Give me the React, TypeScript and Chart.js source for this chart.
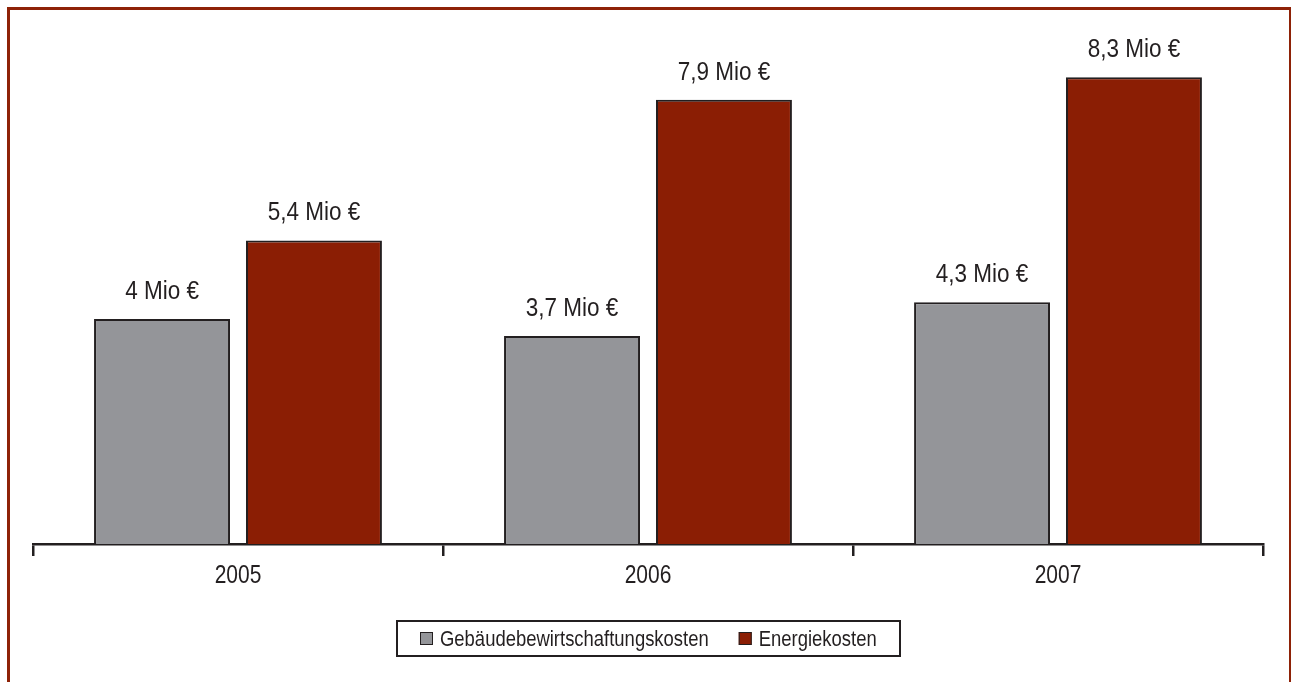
import React, { useEffect, useRef } from "react";
import { Chart, registerables } from "chart.js";

Chart.register(...registerables);

const categories = ["2005", "2006", "2007"];
const gebaeudeValues = [4, 3.7, 4.3];
const energieValues = [5.4, 7.9, 8.3];
const seriesLabels = ["Gebäudebewirtschaftungskosten", "Energiekosten"];
const unitSuffix = " Mio €";

const FONT = '"Liberation Sans", Arial, sans-serif';
const GRAY = "#949599";
const RED = "#8B1E04";
const DARK = "#231F20";
const FRAME = "#8E2207";
const W = 1291;
const H = 682;

function fmt(v: number): string {
  return String(v).replace(".", ",") + unitSuffix;
}

function drawCondensed(
  ctx: CanvasRenderingContext2D,
  text: string,
  x: number,
  y: number,
  size: number,
  k: number,
  align: CanvasTextAlign
) {
  ctx.save();
  ctx.font = size + "px " + FONT;
  ctx.fillStyle = DARK;
  ctx.textBaseline = "middle";
  ctx.textAlign = align;
  ctx.translate(x, y);
  ctx.scale(k, 1);
  ctx.fillText(text, 0, 0);
  ctx.restore();
}

const framePlugin = {
  id: "framePlugin",
  beforeDraw(chart: any) {
    const ctx = chart.ctx;
    ctx.save();
    ctx.fillStyle = "#ffffff";
    ctx.fillRect(0, 0, W, H);
    ctx.fillStyle = FRAME;
    ctx.fillRect(7, 7, W - 7, 3);
    ctx.fillRect(7, 7, 3, H - 7);
    ctx.fillRect(W - 2, 7, 2, H - 7);
    ctx.restore();
  },
};

const tickLabelPlugin = {
  id: "tickLabelPlugin",
  afterDraw(chart: any) {
    const ctx = chart.ctx;
    const xs = chart.scales.x;
    chart.data.labels.forEach((lab: string, i: number) => {
      drawCondensed(ctx, lab, xs.getPixelForTick(i), 576, 25, 0.84, "center");
    });
  },
};

const valueLabelPlugin = {
  id: "valueLabelPlugin",
  afterDatasetsDraw(chart: any) {
    const ctx = chart.ctx;
    chart.data.datasets.forEach((ds: any, i: number) => {
      const meta = chart.getDatasetMeta(i);
      meta.data.forEach((el: any, j: number) => {
        drawCondensed(ctx, fmt(ds.data[j]), el.x, el.y - 27, 25, 0.9, "center");
      });
    });
  },
};

const boxLegendPlugin = {
  id: "boxLegendPlugin",
  afterDraw(chart: any) {
    const ctx = chart.ctx;
    const size = 22.5;
    const k = 0.82;
    ctx.save();
    ctx.font = size + "px " + FONT;
    const ds = chart.data.datasets;
    const sq = 13;
    const gap = 7;
    const itemGap = 30;
    const padX = 24;
    const widths = ds.map((d: any) => ctx.measureText(d.label).width * k);
    let total = padX * 2;
    widths.forEach((w: number, i: number) => {
      total += sq + gap + w + (i > 0 ? itemGap : 0);
    });
    const ca = chart.chartArea;
    const cx = (ca.left + ca.right) / 2;
    const left = Math.round(cx - total / 2);
    const top = 620;
    const h = 37;
    ctx.strokeStyle = DARK;
    ctx.lineWidth = 2;
    ctx.strokeRect(left + 1, top + 1, Math.round(total) - 2, h - 2);
    let x = left + padX;
    const midY = top + h / 2;
    ds.forEach((d: any, i: number) => {
      if (i > 0) x += itemGap;
      ctx.fillStyle = d.backgroundColor;
      ctx.fillRect(x, Math.round(midY - sq / 2), sq, sq);
      ctx.lineWidth = 1;
      ctx.strokeStyle = DARK;
      ctx.strokeRect(x + 0.5, Math.round(midY - sq / 2) + 0.5, sq - 1, sq - 1);
      x += sq + gap;
      drawCondensed(ctx, d.label, x, midY + 1, size, k, "left");
      x += widths[i];
    });
    ctx.restore();
  },
};

export default function App() {
  const ref = useRef<HTMLCanvasElement | null>(null);
  useEffect(() => {
    if (!ref.current) return;
    const chart = new Chart(ref.current, {
      type: "bar",
      data: {
        labels: categories,
        datasets: [
          {
            label: seriesLabels[0],
            data: gebaeudeValues,
            backgroundColor: GRAY,
            borderColor: DARK,
            borderWidth: 2,
            categoryPercentage: 0.741,
            barPercentage: 0.895,
          },
          {
            label: seriesLabels[1],
            data: energieValues,
            backgroundColor: RED,
            borderColor: DARK,
            borderWidth: 2,
            categoryPercentage: 0.741,
            barPercentage: 0.895,
          },
        ],
      },
      options: {
        responsive: false,
        animation: false,
        devicePixelRatio: 1,
        layout: { padding: { left: 33, right: 28, top: 38, bottom: 0 } },
        plugins: {
          legend: { display: false },
          tooltip: { enabled: false },
        },
        scales: {
          x: {
            grid: {
              display: true,
              drawOnChartArea: false,
              drawTicks: true,
              tickLength: 12,
              color: DARK,
              lineWidth: 2.5,
              offset: true,
            },
            border: { display: true, color: DARK, width: 2.5 },
            ticks: { display: false },
            afterFit: (scale: any) => {
              scale.height = H - 544;
            },
          },
          y: {
            display: false,
            min: 0,
            max: 9,
          },
        },
      },
      plugins: [framePlugin, valueLabelPlugin, tickLabelPlugin, boxLegendPlugin],
    });
    return () => chart.destroy();
  }, []);
  return (
    <div style={{ position: "absolute", left: 0, top: 0, width: W, height: H }}>
      <canvas ref={ref} width={W} height={H} style={{ width: W, height: H, display: "block" }} />
    </div>
  );
}
